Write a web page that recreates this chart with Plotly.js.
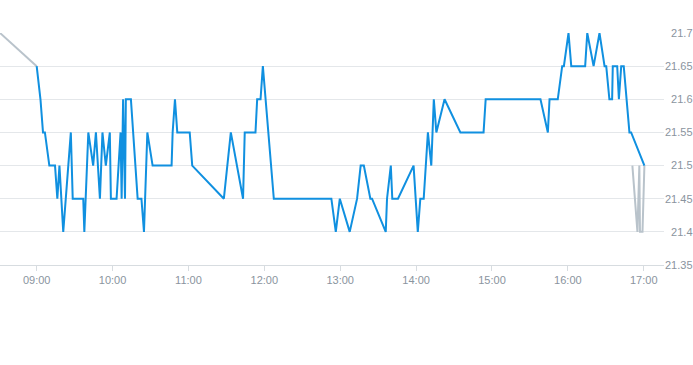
<!DOCTYPE html>
<html>
<head>
<meta charset="utf-8">
<script src="https://cdn.plot.ly/plotly-3.0.1.min.js"></script>
<style>html,body{margin:0;padding:0;background:#fff;}#chart{width:693px;height:365px;}</style>
</head>
<body>
<div id="chart"></div>
<script>
const day = '2024-01-02';
const sessionTimes = ['09:00:00','09:03:00','09:05:00','09:06:30','09:10:00','09:14:30','09:16:20','09:18:00','09:21:00','09:27:00','09:28:30','09:36:50','09:37:40','09:40:50','09:44:40','09:46:50','09:50:00','09:52:00','09:54:40','09:57:50','09:58:40','10:03:10','10:06:20','10:07:10','10:08:20','10:09:50','10:10:30','10:14:30','10:19:50','10:22:50','10:24:50','10:27:30','10:31:40','10:46:40','10:47:30','10:49:20','10:51:10','11:01:00','11:03:00','11:28:00','11:33:30','11:43:10','11:44:30','11:53:00','11:54:20','11:57:00','11:58:50','12:07:30','12:53:00','12:56:30','12:59:40','13:07:30','13:13:20','13:16:10','13:18:40','13:23:50','13:25:10','13:36:00','13:37:00','13:40:00','13:41:10','13:45:40','13:58:00','14:01:20','14:03:20','14:06:00','14:09:20','14:12:00','14:14:00','14:16:00','14:22:30','14:35:00','14:53:20','14:55:00','15:38:20','15:44:10','15:45:30','15:52:00','15:55:30','15:56:50','16:00:30','16:02:40','16:13:40','16:15:20','16:20:20','16:25:00','16:29:00','16:30:20','16:32:50','16:35:00','16:35:30','16:39:00','16:40:20','16:42:10','16:44:10','16:48:40','16:50:00','17:00:30'];
const sessionPrices = [21.65,21.60,21.55,21.55,21.50,21.50,21.45,21.50,21.40,21.55,21.45,21.45,21.40,21.55,21.50,21.55,21.45,21.55,21.50,21.55,21.45,21.45,21.55,21.45,21.60,21.45,21.60,21.60,21.45,21.45,21.40,21.55,21.50,21.50,21.55,21.60,21.55,21.55,21.50,21.45,21.55,21.45,21.55,21.55,21.60,21.60,21.65,21.45,21.45,21.40,21.45,21.40,21.45,21.50,21.50,21.45,21.45,21.40,21.45,21.50,21.45,21.45,21.50,21.40,21.45,21.45,21.55,21.50,21.60,21.55,21.60,21.55,21.55,21.60,21.60,21.55,21.60,21.60,21.65,21.65,21.70,21.65,21.65,21.70,21.65,21.70,21.65,21.65,21.60,21.60,21.65,21.65,21.60,21.65,21.65,21.55,21.55,21.50];
const preTimes = ['08:31:00','09:00:00'];
const prePrices = [21.70,21.65];
const postTimes = ['16:51:00','16:55:00','16:56:30','16:57:00','16:59:00','17:00:30'];
const postPrices = [21.50,21.40,21.50,21.40,21.40,21.50];
const xTickTimes = ['09:00','10:00','11:00','12:00','13:00','14:00','15:00','16:00','17:00'];
const yTicks = [21.35,21.4,21.45,21.5,21.55,21.6,21.65,21.7];

const toDate = t => day + ' ' + (t.length === 5 ? t + ':00' : t);
// right-align the price labels by padding shorter ones with a figure space
const yLabel = v => { const s = String(v); return s.length < 5 ? '\u2007' + s : s; };

const traces = [
  {x: preTimes.map(toDate), y: prePrices, type:'scatter', mode:'lines', line:{color:'#b9c3cb', width:2}, hoverinfo:'skip'},
  {x: postTimes.map(toDate), y: postPrices, type:'scatter', mode:'lines', line:{color:'#b9c3cb', width:2}, hoverinfo:'skip'},
  {x: sessionTimes.map(toDate), y: sessionPrices, type:'scatter', mode:'lines', line:{color:'#1090e0', width:2}}
];

const layout = {
  width: 693, height: 365,
  margin: {l:0, r:29, t:33, b:100},
  showlegend: false,
  paper_bgcolor:'#fff', plot_bgcolor:'#fff',
  font: {family:'"Liberation Sans", Arial, sans-serif', size:11, color:'#8a949e'},
  xaxis: {
    type:'date',
    range: [toDate('08:31'), toDate('17:16')],
    tickvals: xTickTimes.map(toDate),
    ticktext: xTickTimes,
    showgrid:false, zeroline:false,
    showline:true, linecolor:'#d7dce0', linewidth:1,
    ticks:'outside', ticklen:5, tickcolor:'#d7dce0',
    tickfont:{size:11, color:'#8a949e'}
  },
  yaxis: {
    side:'right',
    range:[21.35, 21.7],
    tickvals: yTicks,
    ticktext: yTicks.map(yLabel),
    showgrid:true, gridcolor:'#e4e7ea', gridwidth:1,
    zeroline:false, showline:false, ticks:'',
    tickfont:{size:11, color:'#8a949e'}
  }
};

Plotly.newPlot('chart', traces, layout, {displayModeBar:false, staticPlot:true});
</script>
</body>
</html>
